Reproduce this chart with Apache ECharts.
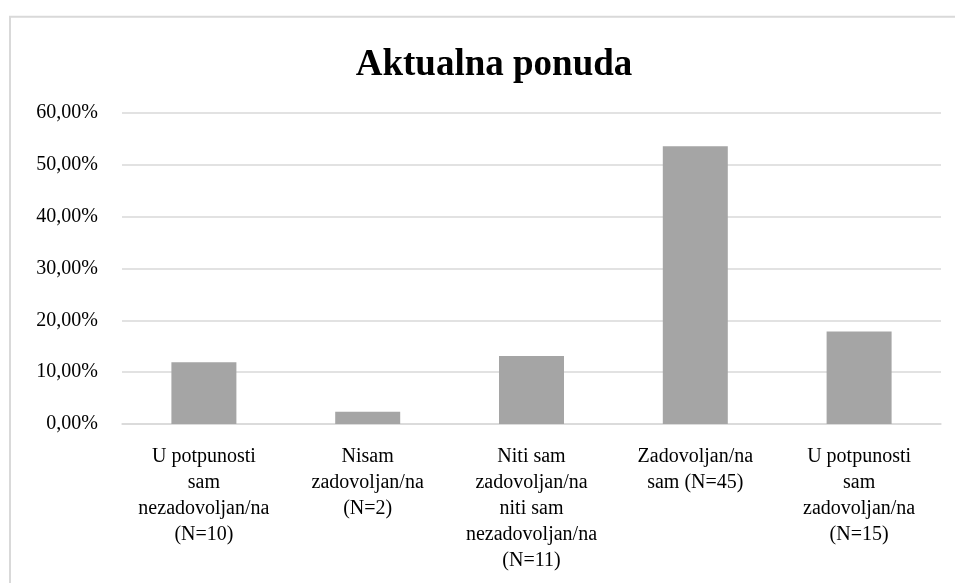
<!DOCTYPE html>
<html>
<head>
<meta charset="utf-8">
<script src="https://cdn.jsdelivr.net/npm/echarts@6/dist/echarts.min.js"></script>
<style>
    html, body { margin: 0; padding: 0; background: #fff; }
    #chart { width: 955px; height: 583px; }
</style>
</head>
<body>
<div id="chart"></div>
<script>
(function () {
    'use strict';

    var chartTitle = 'Aktualna ponuda';
    var categories = [
        'U potpunosti\nsam\nnezadovoljan/na\n(N=10)',
        'Nisam\nzadovoljan/na\n(N=2)',
        'Niti sam\nzadovoljan/na\nniti sam\nnezadovoljan/na\n(N=11)',
        'Zadovoljan/na\nsam (N=45)',
        'U potpunosti\nsam\nzadovoljan/na\n(N=15)'
    ];
    var shares = [11.90, 2.38, 13.10, 53.57, 17.86];
    var yTicks = [0, 10, 20, 30, 40, 50, 60];

    var font = "'Liberation Serif', 'Times New Roman', serif";
    var myChart = echarts.init(document.getElementById('chart'));

    myChart.setOption({
        animation: false,
        title: {
            text: chartTitle,
            left: 489,
            top: 42,
            textAlign: 'center',
            textStyle: {
                fontFamily: font,
                fontSize: 37,
                fontWeight: 'bold',
                color: '#000'
            }
        },
        graphic: [{
            type: 'rect',
            shape: { x: 10, y: 16.7, width: 1200, height: 1200 },
            style: { fill: 'none', stroke: '#d9d9d9', lineWidth: 2 },
            silent: true
        }],
        grid: {
            left: 122,
            right: 14,
            top: 113,
            bottom: 159
        },
        xAxis: {
            type: 'category',
            data: categories,
            axisLine: { lineStyle: { color: '#d9d9d9', width: 1.5 } },
            axisTick: { show: false },
            axisLabel: {
                interval: 0,
                margin: 20,
                fontFamily: font,
                fontSize: 20,
                lineHeight: 26,
                color: '#000',
                align: 'center'
            }
        },
        yAxis: {
            type: 'value',
            min: yTicks[0],
            max: yTicks[yTicks.length - 1],
            interval: 10,
            axisLine: { show: false },
            axisTick: { show: false },
            splitLine: { lineStyle: { color: '#d9d9d9', width: 1.5 } },
            axisLabel: {
                margin: 24,
                padding: [4, 0, 0, 0],
                fontFamily: font,
                fontSize: 20,
                color: '#000',
                formatter: function (v) {
                    return v.toFixed(2).replace('.', ',') + '%';
                }
            }
        },
        series: [{
            name: chartTitle,
            type: 'bar',
            data: shares,
            barWidth: 65,
            itemStyle: { color: '#a5a5a5' }
        }]
    });
}());
</script>
</body>
</html>
